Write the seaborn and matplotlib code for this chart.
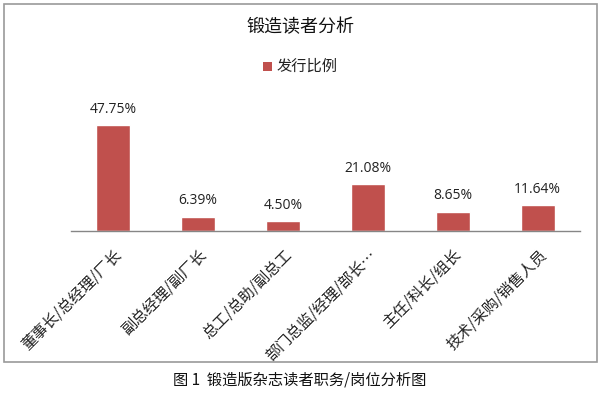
import matplotlib
matplotlib.use("Agg")
import matplotlib.pyplot as plt
import seaborn as sns
import pandas as pd
from matplotlib.patches import Rectangle

categories = ["董事长/总经理/厂长", "副总经理/副厂长", "总工/总助/副总工",
              "部门总监/经理/部长…", "主任/科长/组长", "技术/采购/销售人员"]
values = [47.75, 6.39, 4.50, 21.08, 8.65, 11.64]
series_name = "发行比例"
title = "锻造读者分析"
caption = "图 1  锻造版杂志读者职务/岗位分析图"

sns.set_theme(style="white")
plt.rcParams['font.family'] = ['Noto Sans CJK SC', 'DejaVu Sans']

df = pd.DataFrame({"cat": categories, "val": values, "s": series_name})

fig = plt.figure(figsize=(6, 3.93), dpi=100)
ax = fig.add_axes([0.118, 1 - 231 / 393, 0.849, (231 - 95) / 393])
sns.barplot(data=df, x="cat", y="val", hue="s", palette=["#C0504D"],
            width=0.4, ax=ax, legend=False, saturation=1)
ax.set_ylim(0, 136 / 2.22)
ax.set_xlim(-0.5, len(categories) - 0.5)
ax.set_xlabel("")
ax.set_ylabel("")
ax.set_yticks([])
for s in ["top", "right", "left"]:
    ax.spines[s].set_visible(False)
ax.spines["bottom"].set_color("#868686")
ax.spines["bottom"].set_linewidth(1)
ax.tick_params(axis="x", length=0, pad=11)
ax.set_xticks(range(len(categories)))
ax.set_xticklabels(categories, rotation=45, ha="right", rotation_mode="anchor",
                   fontsize=11, color="#222222")

for i, v in enumerate(values):
    ax.annotate(f"{v:.2f}%", (i, v), xytext=(0, 6), textcoords="offset points",
                ha="center", va="bottom", fontsize=10, color="#222222",
                family=["Open Sans", "DejaVu Sans"])

fig.text(0.5, 1 - 27 / 393, title, ha="center", va="center", fontsize=13,
         color="#111111", fontweight="medium")
# legend
fig.patches.append(Rectangle((263 / 600, 1 - 71 / 393), 9 / 600, 9 / 393,
                             transform=fig.transFigure, facecolor="#C0504D",
                             edgecolor="none"))
fig.text(277 / 600, 1 - 66 / 393, series_name, ha="left", va="center",
         fontsize=11, color="#222222")

# outer chart border
fig.patches.append(Rectangle((4 / 600, 1 - 362 / 393), 593 / 600, 358 / 393,
                             transform=fig.transFigure, facecolor="none",
                             edgecolor="#9a9a9a", linewidth=1.2))
fig.text(0.5, 1 - 380 / 393, caption, ha="center", va="center", fontsize=11,
         color="#111111")

fig.savefig("out.png", dpi=100)
